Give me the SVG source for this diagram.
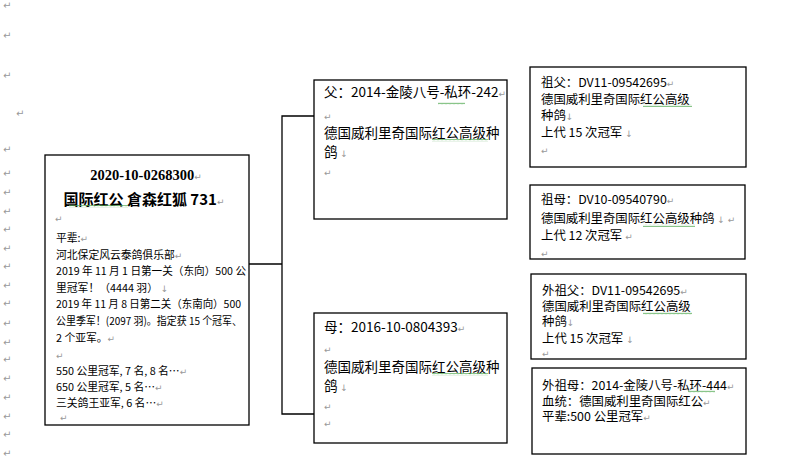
<svg xmlns="http://www.w3.org/2000/svg" width="798" height="466" viewBox="0 0 798 466">
<style>
.box{fill:#fff;stroke:#000;stroke-width:1.3}
.ln{fill:none;stroke:#000;stroke-width:1.3}
.t{font-family:"Noto Sans CJK SC","Noto Sans",sans-serif;fill:#000}
.b{font-size:10.8px}
.p{font-size:13.5px}
.g{font-size:12.4px}
.ti{font-family:"Liberation Serif","Noto Sans CJK SC",serif;font-weight:bold;font-size:14.5px;text-anchor:middle}
.ti2{font-family:"Noto Sans CJK SC",sans-serif;font-weight:bold;font-size:15px;text-anchor:middle}
.m{fill:#999;font-family:"DejaVu Sans",sans-serif;font-size:9px;font-weight:normal}
.lm{fill:#999;font-family:"DejaVu Sans",sans-serif;font-size:10px}
</style>
<defs>
<pattern id="wave" width="4" height="3" patternUnits="userSpaceOnUse">
<path d="M0,2.2 L1,0.8 L2,2.2 L3,0.8 L4,2.2" fill="none" stroke="#5a5" stroke-width="0.7"/>
</pattern>
</defs>
<rect width="798" height="466" fill="#fff"/>

<g id="margin-marks" class="lm">
<text x="3" y="9">↵</text>
<text x="3" y="39">↵</text>
<text x="3" y="79">↵</text>
<text x="16" y="117">↵</text>
<text x="3" y="153">↵</text>
<text x="3" y="177">↵</text>
<text x="3" y="196">↵</text>
<text x="3" y="215">↵</text>
<text x="3" y="233">↵</text>
<text x="3" y="252">↵</text>
<text x="3" y="270">↵</text>
<text x="3" y="289">↵</text>
<text x="3" y="307">↵</text>
<text x="3" y="327">↵</text>
<text x="3" y="346">↵</text>
<text x="3" y="363">↵</text>
<text x="3" y="382">↵</text>
<text x="3" y="401">↵</text>
<text x="3" y="420">↵</text>
<text x="3" y="438">↵</text>
<text x="3" y="457">↵</text>
</g>

<g id="connectors">
<polyline class="ln" points="249,264 282,264"/>
<polyline class="ln" points="315,116 282,116 282,414 315,414"/>
</g>

<g id="main">
<rect class="box" x="45" y="155" width="204" height="270"/>
<text class="ti" x="146" y="180">2020-10-0268300<tspan class="m">↵</tspan></text>
<text class="ti2" x="144" y="205">国际红公 倉森红狐 731<tspan class="m">↵</tspan></text>
<rect x="69" y="205" width="59" height="3" fill="url(#wave)"/>
<text class="m" x="55" y="222">↵</text>
<text class="t b" x="56" y="242">平辈:<tspan class="m">↵</tspan></text>
<text class="t b" x="56" y="259">河北保定风云泰鸽俱乐部<tspan class="m">↵</tspan></text>
<text class="t b" x="56" y="275" textLength="190" lengthAdjust="spacingAndGlyphs">2019 年 11 月 1 日第一关（东向）500 公</text>
<text class="t b" x="56" y="292">里冠军！（4444 羽）<tspan class="m"> ↓</tspan></text>
<text class="t b" x="56" y="308" textLength="185" lengthAdjust="spacingAndGlyphs">2019 年 11 月 8 日第二关（东南向）500</text>
<text class="t b" x="56" y="325" textLength="186" lengthAdjust="spacingAndGlyphs">公里季军！(2097 羽)。指定获 15 个冠军、</text>
<text class="t b" x="56" y="342">2 个亚军。<tspan class="m">↵</tspan></text>
<text class="m" x="56" y="359">↵</text>
<text class="t b" x="56" y="375">550 公里冠军, 7 名, 8 名…<tspan class="m">↵</tspan></text>
<text class="t b" x="56" y="391">650 公里冠军, 5 名…<tspan class="m">↵</tspan></text>
<text class="t b" x="56" y="407">三关鸽王亚军, 6 名…<tspan class="m">↵</tspan></text>
<text class="m" x="60" y="421">↵</text>
</g>

<g id="father">
<rect class="box" x="314" y="80" width="193" height="139"/>
<text class="t p" x="324" y="97">父：2014-金陵八号-私环-242<tspan class="m">↵</tspan></text>
<rect x="438" y="102" width="27" height="3" fill="url(#wave)"/>
<text class="m" x="324" y="120">↵</text>
<text class="t p" x="324" y="138">德国威利里奇国际红公高级种</text>
<rect x="432" y="139" width="56" height="3" fill="url(#wave)"/>
<text class="t p" x="324" y="157">鸽<tspan class="m">  ↓</tspan></text>
<text class="m" x="324" y="176">↵</text>
</g>

<g id="mother">
<rect class="box" x="314" y="313" width="193" height="130"/>
<text class="t p" x="324" y="332">母：2016-10-0804393<tspan class="m">↵</tspan></text>
<text class="m" x="324" y="353">↵</text>
<text class="t p" x="324" y="372">德国威利里奇国际红公高级种</text>
<rect x="432" y="373" width="56" height="3" fill="url(#wave)"/>
<text class="t p" x="324" y="391">鸽<tspan class="m">  ↓</tspan></text>
<text class="m" x="324" y="410">↵</text>
<text class="m" x="324" y="427">↵</text>
</g>

<g id="grandfather">
<rect class="box" x="530" y="67" width="216" height="100"/>
<text class="t g" x="541" y="87">祖父：DV11-09542695<tspan class="m">↵</tspan></text>
<text class="t g" x="541" y="104">德国威利里奇国际红公高级</text>
<rect x="643" y="104" width="49" height="3" fill="url(#wave)"/>
<text class="t g" x="541" y="120">种鸽<tspan class="m">↓</tspan></text>
<text class="t g" x="541" y="137">上代 15 次冠军<tspan class="m">  ↓</tspan></text>
<text class="m" x="541" y="154">↵</text>
</g>

<g id="grandmother">
<rect class="box" x="530" y="185" width="215" height="74"/>
<text class="t g" x="541" y="204">祖母：DV10-09540790<tspan class="m">↵</tspan></text>
<text class="t g" x="541" y="223">德国威利里奇国际红公高级种鸽<tspan class="m">  ↓ ↵</tspan></text>
<rect x="643" y="224" width="52" height="3" fill="url(#wave)"/>
<text class="t g" x="541" y="240">上代 12 次冠军<tspan class="m">  ↵</tspan></text>
<text class="m" x="541" y="257">↵</text>
</g>

<g id="maternal-grandfather">
<rect class="box" x="531" y="274" width="215" height="85"/>
<text class="t g" x="542" y="295">外祖父：DV11-09542695<tspan class="m">↵</tspan></text>
<text class="t g" x="542" y="311">德国威利里奇国际红公高级</text>
<rect x="643" y="312" width="49" height="3" fill="url(#wave)"/>
<text class="t g" x="542" y="326">种鸽<tspan class="m">↓</tspan></text>
<text class="t g" x="542" y="343">上代 15 次冠军<tspan class="m">  ↓</tspan></text>
<text class="m" x="542" y="357">↵</text>
</g>

<g id="maternal-grandmother">
<rect class="box" x="532" y="368" width="214" height="86"/>
<text class="t g" x="542" y="390">外祖母：2014-金陵八号-私环-444<tspan class="m">↵</tspan></text>
<rect x="688" y="390" width="27" height="3" fill="url(#wave)"/>
<text class="t g" x="542" y="406">血统：德国威利里奇国际红公<tspan class="m">↵</tspan></text>
<text class="t g" x="542" y="421">平辈:500 公里冠军<tspan class="m">↵</tspan></text>
</g>
</svg>
